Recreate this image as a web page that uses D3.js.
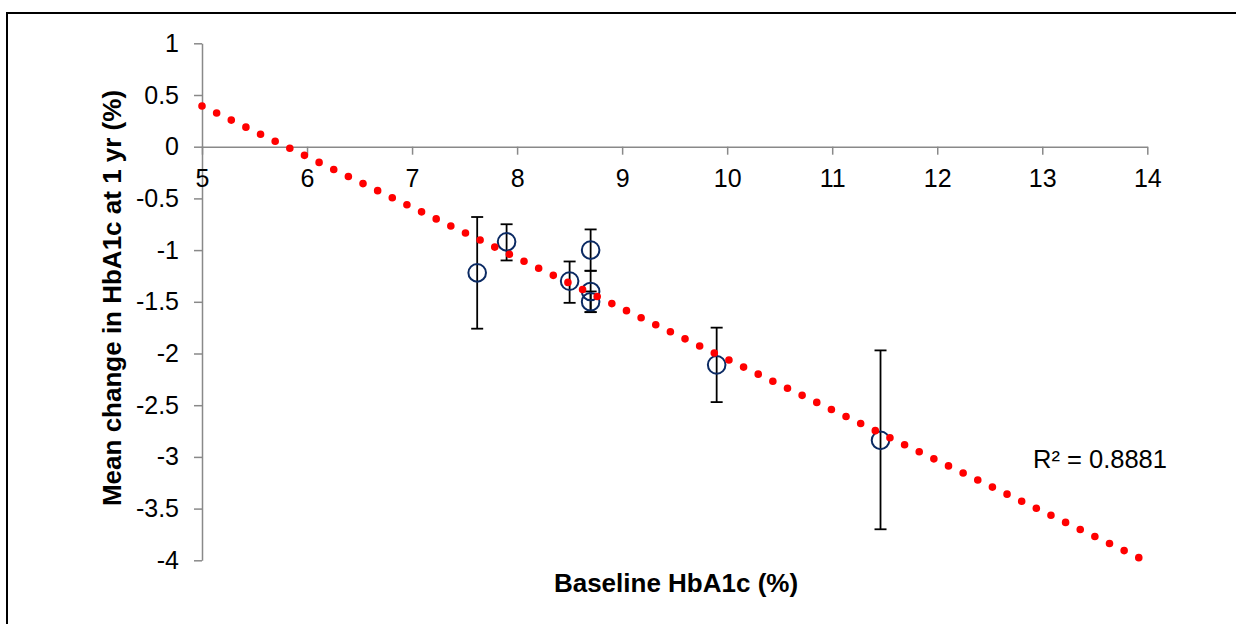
<!DOCTYPE html>
<html>
<head>
    <meta charset="utf-8">
    <style>
        body {
            margin: 0;
            background: white;
            font-family: "Liberation Sans", Arial, sans-serif;
        }

        svg {
            display: block;
        }

        .tick text {
            font-size: 25px;
            fill: black;
        }

        .axis-title {
            font-size: 26px;
            font-weight: bold;
        }
    </style>
</head>
<body>
    <svg width="1236" height="624"></svg>

<script src="https://d3js.org/d3.v7.min.js"></script>
<script>
    // values
    let baseline = [7.62, 7.9, 8.5, 8.7, 8.7, 8.7, 9.9, 11.46]
    let meanChange = [-1.22, -0.92, -1.3, -1.0, -1.4, -1.5, -2.11, -2.84]
    let errLow = [-1.76, -1.1, -1.51, -1.2, -1.6, -1.6, -2.47, -3.7]
    let errHigh = [-0.68, -0.75, -1.11, -0.8, -1.2, -1.4, -1.75, -1.97]

    // dotted linear trendline (ends as drawn)
    let trendX = [5, 13.93]
    let trendY = [0.394, -3.98]
    let rSquared = "R² = 0.8881"

    let xTicks = [5, 6, 7, 8, 9, 10, 11, 12, 13, 14]
    let yTicks = [1, 0.5, 0, -0.5, -1, -1.5, -2, -2.5, -3, -3.5, -4]
    let yTickLabels = ["1", "0.5", "0", "-0.5", "-1", "-1.5", "-2", "-2.5", "-3", "-3.5", "-4"]

    let svg = d3.select("svg")

    // frame round the chart (right and bottom run off the picture)
    svg.append("rect")
        .attr("x", 7)
        .attr("y", 13)
        .attr("width", 1300)
        .attr("height", 700)
        .style("fill", "none")
        .style("stroke", "black")
        .style("stroke-width", 2)

    let x = d3.scaleLinear()
        .domain([5, 14])
        .range([202, 1147.3])

    let y = d3.scaleLinear()
        .domain([-4, 1])
        .range([560.3, 43.3])

    let axisColor = "#898989"

    // y axis
    let yAxis = svg.append("g")
        .attr("transform", "translate(" + x(5) + ",0)")
        .call(d3.axisLeft(y)
            .tickValues(yTicks)
            .tickFormat((d, i) => yTickLabels[i])
            .tickSize(8)
            .tickSizeOuter(0)
            .tickPadding(15))

    // x axis at y = 0
    let xAxis = svg.append("g")
        .attr("transform", "translate(0," + y(0) + ")")
        .call(d3.axisBottom(x)
            .tickValues(xTicks)
            .tickFormat(d3.format("d"))
            .tickSize(8)
            .tickSizeOuter(0))

    xAxis.selectAll(".tick text")
        .attr("y", 40)
        .attr("dy", 0)

    svg.selectAll(".domain, .tick line")
        .style("stroke", axisColor)
        .style("stroke-width", 1.5)

    svg.selectAll(".tick text")
        .style("font-family", "'Liberation Sans', Arial, sans-serif")

    // error bars
    let bars = svg.append("g")
        .selectAll("g")
        .data(baseline)
        .join("g")

    bars.append("line")
        .attr("x1", (d, i) => x(d))
        .attr("x2", (d, i) => x(d))
        .attr("y1", (d, i) => y(errHigh[i]))
        .attr("y2", (d, i) => y(errLow[i]))

    bars.append("line")
        .attr("x1", (d, i) => x(d) - 6)
        .attr("x2", (d, i) => x(d) + 6)
        .attr("y1", (d, i) => y(errHigh[i]))
        .attr("y2", (d, i) => y(errHigh[i]))

    bars.append("line")
        .attr("x1", (d, i) => x(d) - 6)
        .attr("x2", (d, i) => x(d) + 6)
        .attr("y1", (d, i) => y(errLow[i]))
        .attr("y2", (d, i) => y(errLow[i]))

    bars.selectAll("line")
        .style("stroke", "black")
        .style("stroke-width", 1.8)

    // open circle markers
    svg.append("g")
        .selectAll("circle")
        .data(baseline)
        .join("circle")
        .attr("cx", d => x(d))
        .attr("cy", (d, i) => y(meanChange[i]))
        .attr("r", 8.8)
        .style("fill", "none")
        .style("stroke", "#0b2a63")
        .style("stroke-width", 2)

    // trendline
    let trend = d3.line()
        .x(d => x(d[0]))
        .y(d => y(d[1]))

    svg.append("path")
        .attr("d", trend(trendX.map((d, i) => [d, trendY[i]])))
        .style("fill", "none")
        .style("stroke", "#ff0000")
        .style("stroke-width", 7.6)
        .style("stroke-linecap", "round")
        .style("stroke-dasharray", "0 16.25")

    svg.append("text")
        .attr("x", 1033)
        .attr("y", 468)
        .style("font-size", "25.5px")
        .text(rSquared)

    // axis titles
    svg.append("text")
        .attr("class", "axis-title")
        .attr("x", 676)
        .attr("y", 592)
        .attr("text-anchor", "middle")
        .text("Baseline HbA1c (%)")

    svg.append("text")
        .attr("class", "axis-title")
        .attr("transform", "translate(121,298) rotate(-90)")
        .attr("text-anchor", "middle")
        .text("Mean change in HbA1c at 1 yr (%)")
</script>
</body>
</html>
